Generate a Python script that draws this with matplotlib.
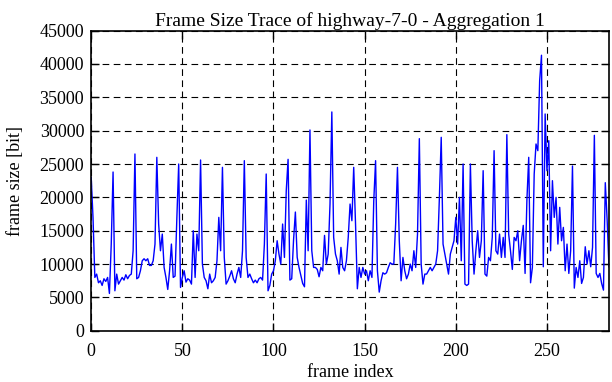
import matplotlib
matplotlib.use("Agg")
import matplotlib.pyplot as plt

plt.rcParams.update({
    "font.family": "serif",
    "font.serif": ["Liberation Serif", "DejaVu Serif"],
    "font.size": 13,
})

# frame sizes [bit], frames 0..284
frames_000_049 = [
    23000, 17000, 8000, 8500, 7200, 7500, 6800, 7800, 7400, 8000,
    5600, 13000, 23800, 6000, 8500, 7000, 7500, 8000, 7600, 8400,
    7800, 8300, 8500, 12000, 26500, 7800, 8000, 9000, 10500, 10800,
    10500, 10800, 9800, 9800, 10500, 13000, 26000, 16000, 12000, 14500,
    9500, 8000, 6200, 9000, 13000, 8000, 8200, 17000, 25000, 6500,
]
frames_050_099 = [
    8000, 9000, 7300, 7800, 7600, 7000, 15000, 8000, 14500, 12000,
    25600, 10000, 8000, 7500, 6300, 8500, 7200, 7500, 8000, 10500,
    17000, 12000, 24500, 11000, 7000, 7500, 8200, 9000, 7800, 7200,
    8500, 9500, 8000, 12000, 25500, 11000, 8000, 8500, 7800, 7200,
    7600, 7200, 7800, 8000, 7600, 13000, 23500, 6000, 6800, 8500,
]
frames_100_149 = [
    9000, 10500, 13500, 11500, 10000, 16000, 11000, 21000, 25700, 7600,
    7800, 13600, 17800, 11000, 9500, 8300, 7100, 6600, 19600, 12000,
    30100, 12000, 9500, 9500, 9200, 8100, 9500, 9000, 14300, 10000,
    11500, 19000, 32800, 14000, 11500, 10500, 8500, 12500, 9500, 9000,
    10500, 14000, 19000, 16500, 24500, 16000, 6300, 9500, 8000, 9500,
]
frames_150_199 = [
    8500, 9000, 7500, 9000, 8000, 19500, 25500, 9000, 5800, 7500,
    8700, 8500, 8700, 9500, 10200, 10000, 10000, 16000, 24500, 13500,
    7500, 11000, 9000, 7800, 8500, 10000, 9000, 12000, 9500, 14500,
    28800, 10000, 7000, 8500, 8500, 9000, 9500, 9000, 9500, 10000,
    12000, 20000, 29000, 13000, 11500, 10000, 8500, 11500, 12500, 13500,
]
frames_200_249 = [
    17000, 13000, 20000, 10500, 25000, 7000, 6800, 7000, 25000, 13500,
    8500, 12000, 15000, 11000, 13500, 24000, 8500, 8200, 11000, 10500,
    14000, 27000, 12000, 11500, 14500, 11000, 14000, 11000, 29400, 14500,
    12000, 9200, 14000, 13500, 15000, 10500, 13500, 15800, 8600, 19600,
    26000, 7200, 9500, 23500, 28000, 27000, 37500, 41300, 9600, 32500,
]
frames_250_284 = [
    24000, 28500, 12000, 22500, 17000, 20000, 13000, 18500, 13500, 15500,
    9000, 13000, 8600, 12000, 24700, 6400, 9500, 8000, 10500, 7100,
    8000, 12600, 10000, 12000, 9600, 12500, 29300, 8600, 8000, 8600,
    7100, 6100, 22200, 16700, 9600,
]
frame_size = (frames_000_049 + frames_050_099 + frames_100_149
              + frames_150_199 + frames_200_249 + frames_250_284)
frame_index = list(range(len(frame_size)))

x_ticks = [0, 50, 100, 150, 200, 250]
y_ticks = [0, 5000, 10000, 15000, 20000, 25000, 30000, 35000, 40000, 45000]

fig = plt.figure(figsize=(6.12, 3.82), dpi=100)
ax = fig.add_axes([0.149, 0.134, 0.846, 0.786])

ax.plot(frame_index, frame_size, color="#0000ff", lw=1.0)

ax.set_xlim(0, len(frame_size) - 1)
ax.set_ylim(0, 45000)
ax.set_xticks(x_ticks)
ax.set_yticks(y_ticks)
ax.grid(True, color="black", lw=0.8, linestyle=(0, (6, 4)))
ax.tick_params(direction="in", length=6, width=1.0, top=True, right=True,
               labelsize=13)
ax.tick_params(axis="x", pad=9)
ax.tick_params(axis="y", pad=5)
for sp in ax.spines.values():
    sp.set_linewidth(1.2)

ax.set_title("Frame Size Trace of highway-7-0 - Aggregation 1", fontsize=14, pad=3)
ax.set_xlabel("frame index", fontsize=13, labelpad=3)
ax.set_ylabel("frame size [bit]", fontsize=13, labelpad=11)

fig.savefig("out.png", dpi=100)
